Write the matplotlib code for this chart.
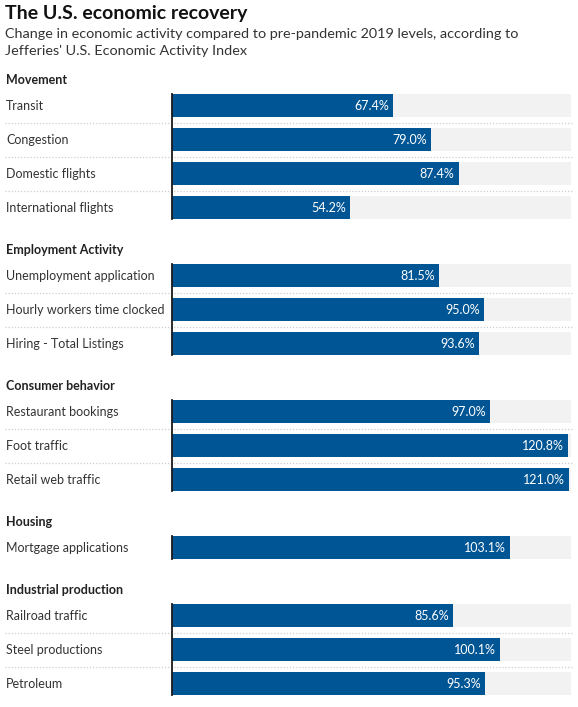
import matplotlib
matplotlib.use("Agg")
import matplotlib.pyplot as plt
from matplotlib.transforms import blended_transform_factory

plt.rcParams['font.family'] = ['Lato', 'DejaVu Sans']

groups = ["Movement", "Employment Activity", "Consumer behavior", "Housing",
          "Industrial production"]
movement_labels = ["Transit", "Congestion", "Domestic flights", "International flights"]
movement_values = [67.4, 79.0, 87.4, 54.2]
employment_labels = ["Unemployment application", "Hourly workers time clocked",
                     "Hiring - Total Listings"]
employment_values = [81.5, 95.0, 93.6]
consumer_labels = ["Restaurant bookings", "Foot traffic", "Retail web traffic"]
consumer_values = [97.0, 120.8, 121.0]
housing_labels = ["Mortgage applications"]
housing_values = [103.1]
industrial_labels = ["Railroad traffic", "Steel productions", "Petroleum"]
industrial_values = [85.6, 100.1, 95.3]

all_labels = [movement_labels, employment_labels, consumer_labels,
              housing_labels, industrial_labels]
all_values = [movement_values, employment_values, consumer_values,
              housing_values, industrial_values]

W, H = 578, 707
BAR = "#005595"
TRACK = "#f2f2f2"
xmax = 121.6

fig = plt.figure(figsize=(W / 100, H / 100), dpi=100)
fig.patch.set_facecolor("white")

# one slot = 34 px, slot 0 (first header slot) centred at 71.5 px from top
slot_px = 34.0
top = 71.5
ax = fig.add_axes([172 / W, 0, (571 - 172) / W, 1])
ax.set_xlim(0, xmax)
ax.set_ylim((H - top) / slot_px, -top / slot_px)
ax.axis("off")

lab_tr = blended_transform_factory(fig.transFigure, ax.transData)

fig.text(5 / W, 1 - 13.5 / H, "The U.S. economic recovery", fontsize=14,
         fontweight="bold", color="#111111", va="center", ha="left")
fig.text(5 / W, 1 - 33.5 / H,
         "Change in economic activity compared to pre-pandemic 2019 levels, according to",
         fontsize=10.4, color="#333333", va="center", ha="left")
fig.text(5 / W, 1 - 51 / H, "Jefferies' U.S. Economic Activity Index",
         fontsize=10.4, color="#333333", va="center", ha="left")

s = 0
for g, labels, values in zip(groups, all_labels, all_values):
    ax.text(6 / W, s + 0.25, g, transform=lab_tr, fontsize=9, fontweight="bold",
            color="#222222", va="center", ha="left")
    ys = [s + 1 + i for i in range(len(values))]
    ax.barh(ys, [xmax] * len(values), height=0.7, color=TRACK, zorder=1)
    ax.barh(ys, values, height=0.7, color=BAR, zorder=2)
    for y, lab, v in zip(ys, labels, values):
        ax.text(6 / W, y, lab, transform=lab_tr, fontsize=9, color="#333333",
                va="center", ha="left")
        ax.annotate(f"{v:.1f}%", (v, y), xytext=(-3, 0), textcoords="offset points",
                    fontsize=9, color="white", va="center", ha="right", zorder=3)
    for y in ys[:-1]:
        ax.plot([5 / W, 572 / W], [y + 0.5, y + 0.5], transform=lab_tr,
                color="#cfcfcf", lw=0.9, ls=(0, (1, 1.5)), clip_on=False, zorder=0)
    ax.plot([0, 0], [ys[0] - 0.35, ys[-1] + 0.35], color="#1a1a1a", lw=1.3,
            zorder=4, clip_on=False)
    s += len(values) + 1

fig.savefig("out.png", dpi=100)
